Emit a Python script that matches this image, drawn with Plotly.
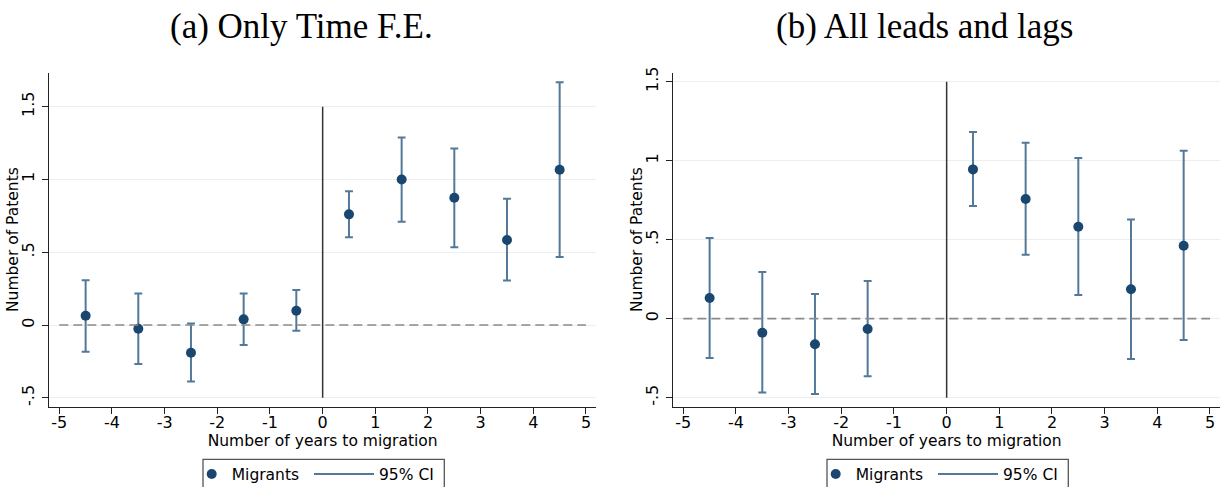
import plotly.graph_objects as go

# Event-study estimates
years = [-4.5, -3.5, -2.5, -1.5, -0.5, 0.5, 1.5, 2.5, 3.5, 4.5]

coef_a = [0.064, -0.025, -0.19, 0.039, 0.098, 0.76, 1.0, 0.874, 0.584, 1.066]
lo_a = [-0.183, -0.267, -0.388, -0.137, -0.039, 0.603, 0.71, 0.534, 0.306, 0.468]
hi_a = [0.308, 0.217, 0.011, 0.217, 0.24, 0.918, 1.288, 1.212, 0.868, 1.667]

years_b = [-4.5, -3.5, -2.5, -1.5, 0.5, 1.5, 2.5, 3.5, 4.5]
coef_b = [0.131, -0.089, -0.162, -0.065, 0.945, 0.757, 0.582, 0.186, 0.462]
lo_b = [-0.249, -0.468, -0.477, -0.365, 0.713, 0.405, 0.15, -0.255, -0.135]
hi_b = [0.511, 0.295, 0.156, 0.238, 1.181, 1.114, 1.017, 0.627, 1.063]

xtick_vals = [-5, -4, -3, -2, -1, 0, 1, 2, 3, 4, 5]
xtick_text = ["-5", "-4", "-3", "-2", "-1", "0", "1", "2", "3", "4", "5"]
ytick_vals = [-0.5, 0, 0.5, 1, 1.5]
ytick_text = ["-.5", "0", ".5", "1", "1.5"]

titles = ["(a) Only Time F.E.", "(b) All leads and lags"]
ytitle = "Number of Patents"
xtitle = "Number of years to migration"

NAVY = "#1a476f"
CI_COL = "#52789a"
CAP = 0.075  # half width of the caps, in x units
W, H = 1225, 487


def ci_segments(x, lo, hi):
    xs, ys = [], []
    for xi, l, h in zip(x, lo, hi):
        xs += [xi - CAP, xi + CAP, None, xi, xi, None, xi - CAP, xi + CAP, None]
        ys += [l, l, None, l, h, None, h, h, None]
    return xs, ys


fig = go.Figure()

# (x, coef, lo, hi, xaxis, yaxis, legend for dots, legend for CI, horizontal shift in px)
panels = [
    (years, coef_a, lo_a, hi_a, "x", "y", "legend", "legend3", 0),
    (years_b, coef_b, lo_b, hi_b, "x2", "y2", "legend2", "legend4", 624),
]
legends = {}
annotations = []
for i, (x, c, lo, hi, xa, ya, lg_dot, lg_ci, dx) in enumerate(panels):
    cx, cy = ci_segments(x, lo, hi)
    fig.add_trace(go.Scatter(
        x=cx, y=cy, mode="lines", name="95% CI",
        line=dict(color=CI_COL, width=2),
        xaxis=xa, yaxis=ya, legend=lg_ci, showlegend=True,
    ))
    fig.add_trace(go.Scatter(
        x=x, y=c, mode="markers", name="Migrants",
        marker=dict(color=NAVY, size=10),
        xaxis=xa, yaxis=ya, legend=lg_dot, showlegend=True,
    ))
    # reference lines
    fig.add_shape(type="line", xref=xa, yref=ya,
                  x0=xtick_vals[0], x1=xtick_vals[-1], y0=0, y1=0,
                  line=dict(color="#8a8a8a", width=1.6, dash="9px,5px"))
    fig.add_shape(type="line", xref=xa, yref=ya,
                  x0=0, x1=0, y0=ytick_vals[0], y1=ytick_vals[-1],
                  line=dict(color="#333333", width=1.5))
    # legend frame
    fig.add_shape(type="rect", xref="paper", yref="paper",
                  x0=(203 + dx) / W, x1=(444.3 + dx) / W,
                  y0=1 - 459.3 / H, y1=-0.05,
                  line=dict(color="#555555", width=1.3))
    legfont = dict(family="DejaVu Sans", size=15.5, color="black")
    legends[lg_dot] = dict(
        orientation="h", x=(191.7 + dx) / W, y=1 - 474.5 / H,
        xanchor="left", yanchor="middle", itemwidth=30,
        bgcolor="rgba(0,0,0,0)", borderwidth=0, font=legfont,
    )
    legends[lg_ci] = dict(
        orientation="h", x=(309 + dx) / W, y=1 - 474.5 / H,
        xanchor="left", yanchor="middle", itemwidth=60,
        bgcolor="rgba(0,0,0,0)", borderwidth=0, font=legfont,
    )
    annotations.append(dict(
        text=titles[i], x=(301 + dx) / W, y=1 - 26 / H, xref="paper", yref="paper",
        xanchor="center", yanchor="middle", showarrow=False,
        font=dict(family="Liberation Serif", size=35, color="black"),
    ))
    annotations.append(dict(
        text=ytitle, x=(13 + dx) / W, y=1 - 240 / H, xref="paper", yref="paper",
        xanchor="center", yanchor="middle", textangle=-90, showarrow=False,
        font=dict(family="DejaVu Sans", size=15.5, color="black"),
    ))

tickfont = dict(family="DejaVu Sans", size=16, color="black")
titlefont = dict(family="DejaVu Sans", size=15.5, color="black")

xcommon = dict(
    range=[-5.19, 5.19], tickvals=xtick_vals, ticktext=xtick_text,
    showgrid=False, zeroline=False, automargin=False,
    showline=True, linecolor="#222", linewidth=1.3,
    ticks="outside", ticklen=6, tickcolor="#222", tickwidth=1.3,
    tickfont=tickfont, ticklabelstandoff=-6,
    title=dict(text=xtitle, font=titlefont, standoff=0),
)
ycommon = dict(
    tickvals=ytick_vals, ticktext=ytick_text, tickangle=-90,
    showgrid=True, gridcolor="#eaf0f2", gridwidth=1.2, zeroline=False,
    automargin=False,
    showline=True, linecolor="#222", linewidth=1.3,
    ticks="outside", ticklen=6, tickcolor="#222", tickwidth=1.3,
    tickfont=tickfont, ticklabelstandoff=2,
)

ydom = [1 - 407.3 / H, 1 - 72.7 / H]

fig.update_layout(
    width=W, height=H,
    margin=dict(l=0, r=0, t=0, b=0, autoexpand=False),
    paper_bgcolor="white", plot_bgcolor="white",
    showlegend=True,
    xaxis=dict(xcommon, domain=[49.3 / W, 596 / W], anchor="y"),
    yaxis=dict(ycommon, domain=ydom, range=[-0.565, 1.733], anchor="x"),
    xaxis2=dict(xcommon, domain=[673.3 / W, 1220 / W], anchor="y2"),
    yaxis2=dict(ycommon, domain=ydom, range=[-0.561, 1.557], anchor="x2"),
    annotations=annotations,
    **legends,
)

# drop the default page margin so the figure sits at the window's top-left corner
fig.write_html("out.html", config={"displayModeBar": False},
               post_script="document.body.style.margin='0';")
